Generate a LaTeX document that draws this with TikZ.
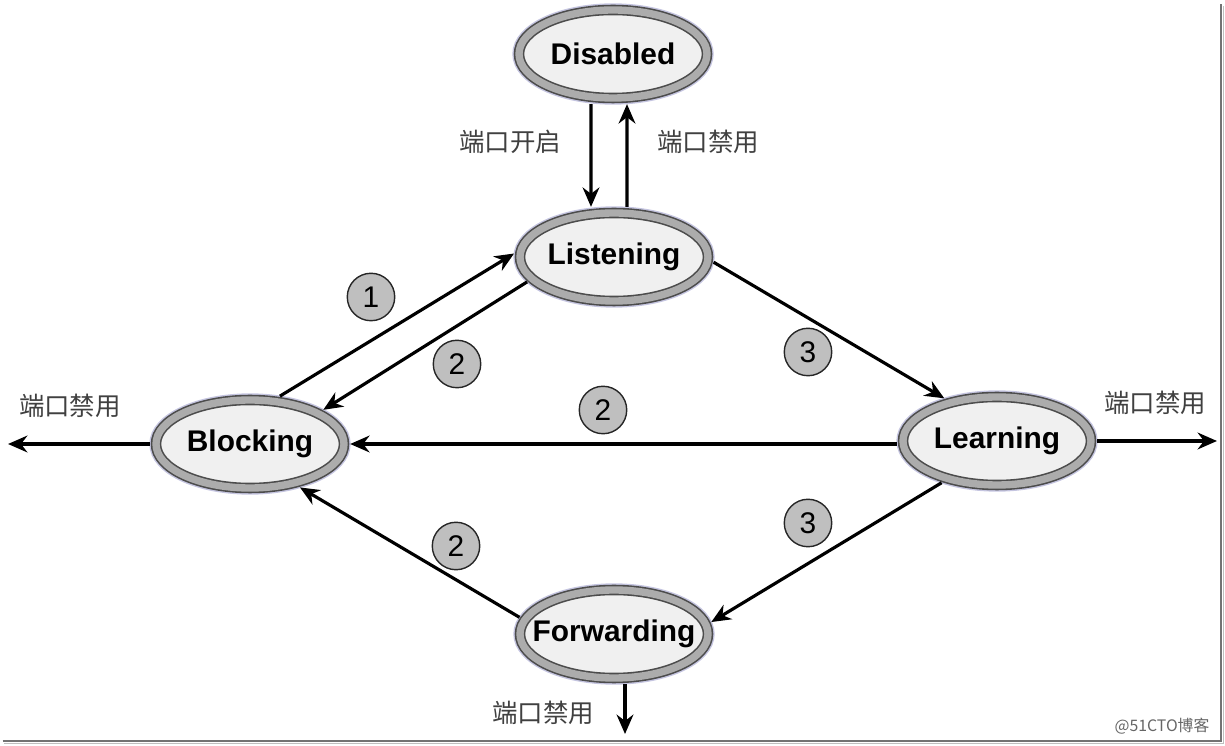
\documentclass[tikz,border=0pt]{standalone}
\usepackage{fontspec}
\setmainfont{Liberation Sans}
\newfontfamily\cjk{Noto Sans CJK SC}
\usetikzlibrary{arrows.meta, positioning, shapes.geometric}

\begin{document}
\begin{tikzpicture}[
    st/.style={ellipse, draw=black!70, line width=0.9pt, double=gray!65, double distance=4.2pt,
        fill=gray!12, minimum width=3.76cm, minimum height=1.76cm, inner sep=0pt, outer sep=3.5pt,
        preaction={draw=blue!30!gray!35, line width=7.6pt},
        font=\fontsize{17}{20}\selectfont\bfseries},
    num/.style={circle, draw=black!85, line width=0.8pt, fill=gray!50, minimum size=27pt,
        inner sep=0pt, font=\fontsize{17}{20}\selectfont},
    lbl/.style={font=\cjk\fontsize{14.5}{17}\selectfont, text=black!75, inner sep=0pt},
    arr/.style={-{Stealth[length=11pt, width=9.5pt]}, line width=1.8pt}]
    \useasboundingbox (0,0) rectangle (24.5,14.92);
    \node[st] (dis) at (12.26,13.84) {\makebox[0pt]{Disabled}};
    \node[st] (lis) at (12.28,9.78) {\makebox[0pt]{Listening}};
    \node[st] (blk) at (5.00,6.04) {\makebox[0pt]{Blocking}};
    \node[st] (lrn) at (19.94,6.10) {\makebox[0pt]{Learning}};
    \node[st] (fwd) at (12.28,2.24) {\makebox[0pt]{Forwarding}};
    \coordinate (outl) at (0.16,6.00);
    \coordinate (outr) at (24.34,6.08);
    \coordinate (outd) at (12.50,0.24);
    \draw[arr] ([xshift=-0.44cm]dis.south) -- ([xshift=-0.46cm]lis.north);
    \draw[arr] ([xshift=0.26cm]lis.north) -- ([xshift=0.28cm]dis.south);
    \foreach \a/\b in {blk.58/lis.178, lis.196/blk.25, lis.357/lrn.141, lrn.217/fwd.7, fwd.170/blk.319} {
        \draw[arr] (\a) -- (\b);
    }
    \draw[arr] (lrn.west |- blk.east) -- (blk.east);
    \draw[arr] (blk.west) -- (blk.west -| outl);
    \draw[arr] (lrn.east) -- (lrn.east -| outr);
    \draw[arr] ([xshift=0.22cm]fwd.south) -- ([xshift=0.22cm]fwd.south |- outd);
    \node[num] (n1) at (7.42,8.98) {1};
    \node[num] (n2a) at (9.14,7.64) {2};
    \node[num] (n3a) at (16.16,7.88) {3};
    \node[num] (n2b) at (12.06,6.72) {2};
    \node[num] (n3b) at (16.16,4.46) {3};
    \node[num] (n2c) at (9.12,4.00) {2};
    \node[lbl] (on) at (10.20,12.08) {端口开启};
    \node[lbl] (offd) at (14.16,12.08) {端口禁用};
    \node[lbl] (offl) at (1.40,6.80) {端口禁用};
    \node[lbl] (offr) at (23.10,6.86) {端口禁用};
    \node[lbl] (offf) at (10.86,0.66) {端口禁用};
    \node[font=\cjk\fontsize{9}{11}\selectfont, text=black!60] (wm) at (23.24,0.40) {@51CTO博客};
    \draw[black!55, line width=1.2pt] (0.05,0.1) -- (24.42,0.1) -- (24.42,14.84);
    \draw[black!25, line width=1pt] (0.08,0.05) -- (24.47,0.05) -- (24.47,14.8);
\end{tikzpicture}
\end{document}
